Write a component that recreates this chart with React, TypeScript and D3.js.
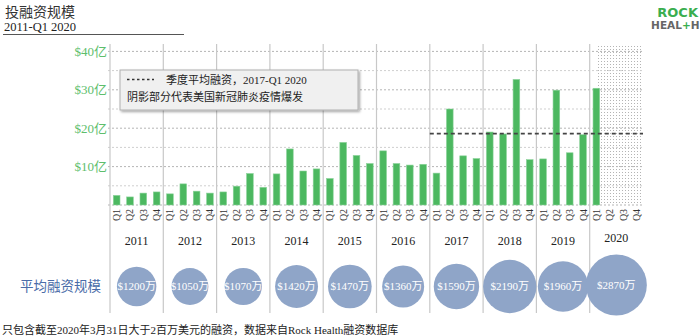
import React from "react";
import * as d3 from "d3";

const years = ["2011", "2012", "2013", "2014", "2015", "2016", "2017", "2018", "2019", "2020"];
const quarters = ["Q1", "Q2", "Q3", "Q4"];
// quarterly funding, in 亿 USD (2011 Q1 .. 2020 Q1)
const funding = [
  2.5, 2.1, 3.1, 3.4,
  2.9, 5.5, 3.6, 3.1,
  3.4, 4.9, 8.2, 4.6,
  8.1, 14.6, 8.85, 9.4,
  6.9, 16.3, 12.9, 10.8,
  14.1, 10.8, 10.4, 10.6,
  8.3, 25.0, 12.8, 12.1,
  19.0, 18.5, 32.7, 11.8,
  12.0, 29.9, 13.6, 18.3,
  30.4,
];
// average deal size per year, 万 USD
const avgDeal = [1200, 1050, 1070, 1420, 1470, 1360, 1590, 2190, 1960, 2870];
const yTicks = [10, 20, 30, 40];
const gridValues = [0, 5, 10, 15, 20, 25, 30, 35, 40];
const avgLineValue = 18.6;
const avgLineStart = "2017-Q1";
const shadeStart = "2020-Q1";

const GREEN = "#4cb860";
const LABEL_GREEN = "#5dbe6c";
const BUBBLE = "#8fa5c8";
const FONT = "'Liberation Serif', 'Noto Sans CJK SC', serif";
const CJK = "'Noto Sans CJK SC', sans-serif";

export default function App() {
  const keys = years.flatMap((y) => quarters.map((q) => `${y}-${q}`));
  const x = d3.scaleBand<string>().domain(keys).range([110, 643]).paddingInner(0.5).paddingOuter(0.25);
  const xYear = d3.scaleBand<string>().domain(years).range([110, 643]);
  const y = d3.scaleLinear().domain([0, 40]).range([205, 51.4]);
  const r = d3.scaleSqrt().domain([0, 2870]).range([0, 30.5]);
  const bw = x.bandwidth();
  const step = x.step();

  const shadeX0 = (x(shadeStart) as number) + bw / 2;
  const shadeX1 = 642;

  return (
    <svg
      width={700}
      height={336}
      style={{ position: "absolute", left: 0, top: 0, background: "#fff" }}
      fontFamily={FONT}
    >
      <defs>
        <pattern id="dots" width="3" height="3" patternUnits="userSpaceOnUse">
          <rect x="1" y="1" width="1" height="1" fill="#b4b4b4" />
        </pattern>
        <filter id="shadow" x="-5%" y="-20%" width="115%" height="150%">
          <feDropShadow dx="1.5" dy="1.5" stdDeviation="1" floodColor="#000" floodOpacity="0.35" />
        </filter>
      </defs>

      {/* title */}
      <text x={5} y={17} fontFamily={CJK} fontSize={14} fill="#333">投融资规模</text>
      <text x={4} y={31} fontSize={12.5} fill="#222">2011-Q1 2020</text>
      <line x1={3} x2={184} y1={34.5} y2={34.5} stroke="#555" strokeWidth={1} />

      {/* logo */}
      <text x={698} y={17} textAnchor="end" fontFamily="'DejaVu Sans', sans-serif" fontWeight="bold" fontSize={13} fill="#3aae4f">ROCK</text>
      <text x={699.5} y={28.5} textAnchor="end" fontFamily="'DejaVu Sans', sans-serif" fontWeight="bold" fontSize={10.5} fill="#666">
        HEAL<tspan fill="#3aae4f">+</tspan>H
      </text>

      {/* shaded covid region */}
      <rect x={shadeX0} y={44} width={shadeX1 - shadeX0} height={205 - 44} fill="url(#dots)" />

      {/* grid lines */}
      {gridValues.map((v) => (
        <line
          key={v}
          x1={108}
          x2={643}
          y1={y(v)}
          y2={y(v)}
          stroke={v % 10 === 0 ? "#b5b5b5" : "#cfcfcf"}
          strokeWidth={1}
          strokeDasharray="2,2"
        />
      ))}

      {/* year separators */}
      {years.map((yr) => (
        <line
          key={yr}
          x1={xYear(yr) as number}
          x2={xYear(yr) as number}
          y1={44}
          y2={313}
          stroke="#c8c8c8"
          strokeWidth={1.2}
        />
      ))}

      {/* y tick labels */}
      {yTicks.map((v) => (
        <text key={v} x={107} y={y(v)} dy="0.35em" textAnchor="end" fontSize={13} fill={LABEL_GREEN}>
          ${v}亿
        </text>
      ))}

      {/* bars */}
      {funding.map((v, i) => (
        <rect
          key={keys[i]}
          x={x(keys[i]) as number}
          y={y(v)}
          width={bw}
          height={y(0) - y(v)}
          fill={GREEN}
          stroke="#8bd39a"
          strokeWidth={0.6}
        />
      ))}

      {/* average line */}
      <line
        x1={(x(avgLineStart) as number) - (step - bw) / 2}
        x2={643}
        y1={y(avgLineValue)}
        y2={y(avgLineValue)}
        stroke="#444"
        strokeWidth={1.8}
        strokeDasharray="4,3"
      />

      {/* legend */}
      <rect x={120} y={70} width={238} height={40} fill="#f0f0f0" stroke="#b0b0b0" strokeWidth={1} filter="url(#shadow)" />
      <line x1={127} x2={154} y1={79.5} y2={79.5} stroke="#333" strokeWidth={1.5} strokeDasharray="2.5,2.5" />
      <text x={166} y={83.5} fontSize={11} fill="#222">
        <tspan fontFamily={CJK}>季度平均融资，</tspan>2017-Q1 2020
      </text>
      <text x={127} y={101} fontSize={11} fontFamily={CJK} fill="#222">阴影部分代表美国新冠肺炎疫情爆发</text>

      {/* quarter labels */}
      {keys.map((k) => {
        const cx = (x(k) as number) + bw / 2;
        const q = k.split("-")[1];
        return (
          <text
            key={k}
            transform={`translate(${cx},215) rotate(-90)`}
            textAnchor="middle"
            dy="0.35em"
            fontSize={10}
            fill="#333"
          >
            {q}
          </text>
        );
      })}

      {/* year labels */}
      {years.map((yr) => (
        <text
          key={yr}
          x={(xYear(yr) as number) + xYear.bandwidth() / 2}
          y={yr === "2020" ? 238 : 241}
          dy="0.35em"
          textAnchor="middle"
          fontSize={12}
          fill="#222"
        >
          {yr}
        </text>
      ))}

      {/* bubble row */}
      <text x={101} y={286} dy="0.35em" textAnchor="end" fontFamily={CJK} fontSize={13.5} fill="#4a6ca8">
        平均融资规模
      </text>
      {avgDeal.map((v, i) => {
        const cx = (xYear(years[i]) as number) + xYear.bandwidth() / 2;
        return (
          <g key={years[i]}>
            <circle cx={cx} cy={i === 9 ? 285 : 286.5} r={r(v)} fill={BUBBLE} />
            <text x={cx} y={i === 9 ? 285 : 286.5} dy="0.35em" textAnchor="middle" fontSize={11} fill="#fff">
              ${v}
              <tspan fontFamily={CJK}>万</tspan>
            </text>
          </g>
        );
      })}

      {/* footer */}
      <text x={2} y={330} dy="0.35em" fontSize={11} fill="#222">
        <tspan fontFamily={CJK}>只包含截至</tspan>2020<tspan fontFamily={CJK}>年</tspan>3<tspan fontFamily={CJK}>月</tspan>31<tspan fontFamily={CJK}>日大于</tspan>2<tspan fontFamily={CJK}>百万美元的融资，数据来自</tspan>Rock Health<tspan fontFamily={CJK}>融资数据库</tspan>
      </text>
    </svg>
  );
}
